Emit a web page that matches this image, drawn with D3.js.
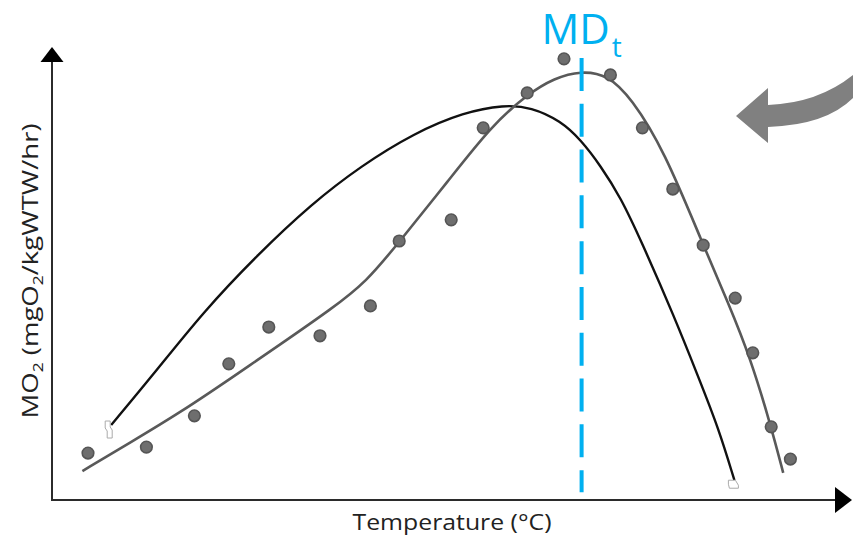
<!DOCTYPE html>
<html>
<head>
<meta charset="utf-8">
<script src="https://cdn.jsdelivr.net/npm/d3@7"></script>
<style>
  html, body { margin: 0; padding: 0; background: #fff; }
  svg { display: block; }
  text { font-family: "Open Sans", "Noto Sans", sans-serif; }
</style>
</head>
<body>
<svg id="chart" width="853" height="541"></svg>
<script>
// Measured metabolic rate at each test temperature (relative units)
const pointTemps = [4.5, 11.8, 17.8, 22.1, 27.1, 33.5, 39.8, 43.4, 49.9, 53.9,
                    59.4, 64.0, 69.8, 73.8, 77.6, 81.4, 85.4, 87.6, 89.9, 92.3];
const pointRates = [10.2, 11.5, 18.3, 29.6, 37.6, 35.7, 42.2, 56.3, 60.9, 80.9,
                    88.5, 95.9, 92.4, 80.9, 67.6, 55.4, 43.9, 32.0, 15.9, 8.9];

// Fitted curve through the measurements
const fitTemps = [3.8, 9.9, 16.1, 22.4, 28.6, 34.9, 39.3, 43.4, 49.5, 54.9, 59.5,
                  62.8, 66.1, 69.5, 72.4, 76.5, 81.4, 84.5, 87.3, 89.9, 91.4];
const fitRates = [6.3, 12.6, 19.1, 26.5, 33.9, 41.5, 47.4, 56.1, 69.3, 81.3, 88.3,
                  91.7, 93.3, 92.4, 87.4, 76.1, 55.4, 43.0, 30.9, 15.9, 5.9];

// Reference performance curve
const refTemps = [7.4, 12.4, 19.0, 25.8, 32.4, 38.6, 45.3, 51.5, 56.5, 59.9,
                  63.6, 66.1, 68.6, 71.1, 73.6, 77.8, 80.8, 83.3, 85.3];
const refRates = [16.3, 26.7, 41.1, 53.5, 64.3, 72.6, 79.8, 84.3, 85.9, 85.4,
                  82.4, 78.3, 72.6, 65.7, 56.5, 39.8, 26.7, 15.7, 4.3];

// Temperature of maximum demand (MDt) and the span of its marker line
const mdTemp = 66.2;
const mdSpan = [1.7, 96.1];

const xLabel = "Temperature (°C)";

const svg = d3.select("#chart");

const x = d3.scaleLinear().domain([0, 100]).range([52, 852]);
const y = d3.scaleLinear().domain([0, 100]).range([500, 40]);

const axisColor = "#2b2b2b";

// Axes with arrowheads
svg.append("line")
  .attr("x1", x(0)).attr("y1", y(0))
  .attr("x2", x(0)).attr("y2", 60)
  .attr("stroke", axisColor).attr("stroke-width", 2);
svg.append("path")
  .attr("d", `M${x(0)},47 L${x(0) + 11.5},62 L${x(0) - 11.5},62 Z`)
  .attr("fill", "#000");

svg.append("line")
  .attr("x1", x(0) - 1).attr("y1", y(0))
  .attr("x2", 838).attr("y2", y(0))
  .attr("stroke", axisColor).attr("stroke-width", 2);
svg.append("path")
  .attr("d", `M852,${y(0)} L835,${y(0) - 13} L835,${y(0) + 13} Z`)
  .attr("fill", "#000");

const line = d3.line()
  .x(d => x(d[0]))
  .y(d => y(d[1]))
  .curve(d3.curveBasis);

// Reference curve
const refData = refTemps.map((t, i) => [t, refRates[i]]);
svg.append("path")
  .attr("d", line(refData))
  .attr("fill", "none")
  .attr("stroke", "#111")
  .attr("stroke-width", 2.4);

// Small end markers on the reference curve
const r0 = refData[0], r1 = refData[refData.length - 1];
svg.append("path")
  .attr("d", `M${x(r0[0]) - 6},${y(r0[1]) - 4} h5 v6 l2,3 v8 h-5 v-7 l-2,-3 Z`)
  .attr("fill", "#fff").attr("stroke", "#aaa").attr("stroke-width", 1);
svg.append("path")
  .attr("d", `M${x(r1[0]) - 6},${y(r1[1])} h7 l3,5 v3 h-9 l-1,-4 Z`)
  .attr("fill", "#fff").attr("stroke", "#aaa").attr("stroke-width", 1);

// Fitted curve
const fitData = fitTemps.map((t, i) => [t, fitRates[i]]);
svg.append("path")
  .attr("d", line(fitData))
  .attr("fill", "none")
  .attr("stroke", "#595959")
  .attr("stroke-width", 2.6);

// MDt marker line
svg.append("line")
  .attr("x1", x(mdTemp)).attr("x2", x(mdTemp))
  .attr("y1", y(mdSpan[1])).attr("y2", y(mdSpan[0]))
  .attr("stroke", "#00B0F0")
  .attr("stroke-width", 4)
  .attr("stroke-dasharray", "33 12.8");

// Measurements
svg.append("g")
  .selectAll("circle")
  .data(pointTemps.map((t, i) => [t, pointRates[i]]))
  .join("circle")
  .attr("cx", d => x(d[0]))
  .attr("cy", d => y(d[1]))
  .attr("r", 5.8)
  .attr("fill", "#6e6e6e")
  .attr("stroke", "#555")
  .attr("stroke-width", 1.6);

// MDt label
const md = svg.append("text")
  .attr("x", x(mdTemp) - 40)
  .attr("y", 44)
  .attr("fill", "#00B0F0")
  .attr("font-size", 42);
md.append("tspan").text("MD");
md.append("tspan").attr("font-size", 28).attr("dy", 13).attr("dx", 2).text("t");

// Curved pointer arrow
svg.append("path")
  .attr("d", "M853,75 Q818,103 768,105 L768,88 L736,116 L768,143 L768,127 Q826,125 853,98 Z")
  .attr("fill", "#808080");

// Axis titles (wide-set lettering)
svg.append("text")
  .attr("x", 452)
  .attr("y", 530)
  .attr("text-anchor", "middle")
  .attr("font-size", 21)
  .attr("textLength", 199)
  .attr("lengthAdjust", "spacingAndGlyphs")
  .attr("fill", "#222")
  .text(xLabel);

const yl = svg.append("text")
  .attr("transform", "translate(38,271) rotate(-90)")
  .attr("text-anchor", "middle")
  .attr("font-size", 22)
  .attr("textLength", 295)
  .attr("lengthAdjust", "spacingAndGlyphs")
  .attr("fill", "#222");
yl.append("tspan").text("MO");
yl.append("tspan").attr("font-size", 14).attr("dy", 5).text("2");
yl.append("tspan").attr("dy", -5).text(" (mgO");
yl.append("tspan").attr("font-size", 14).attr("dy", 5).text("2");
yl.append("tspan").attr("dy", -5).text("/kgWTW/hr)");
</script>
</body>
</html>
